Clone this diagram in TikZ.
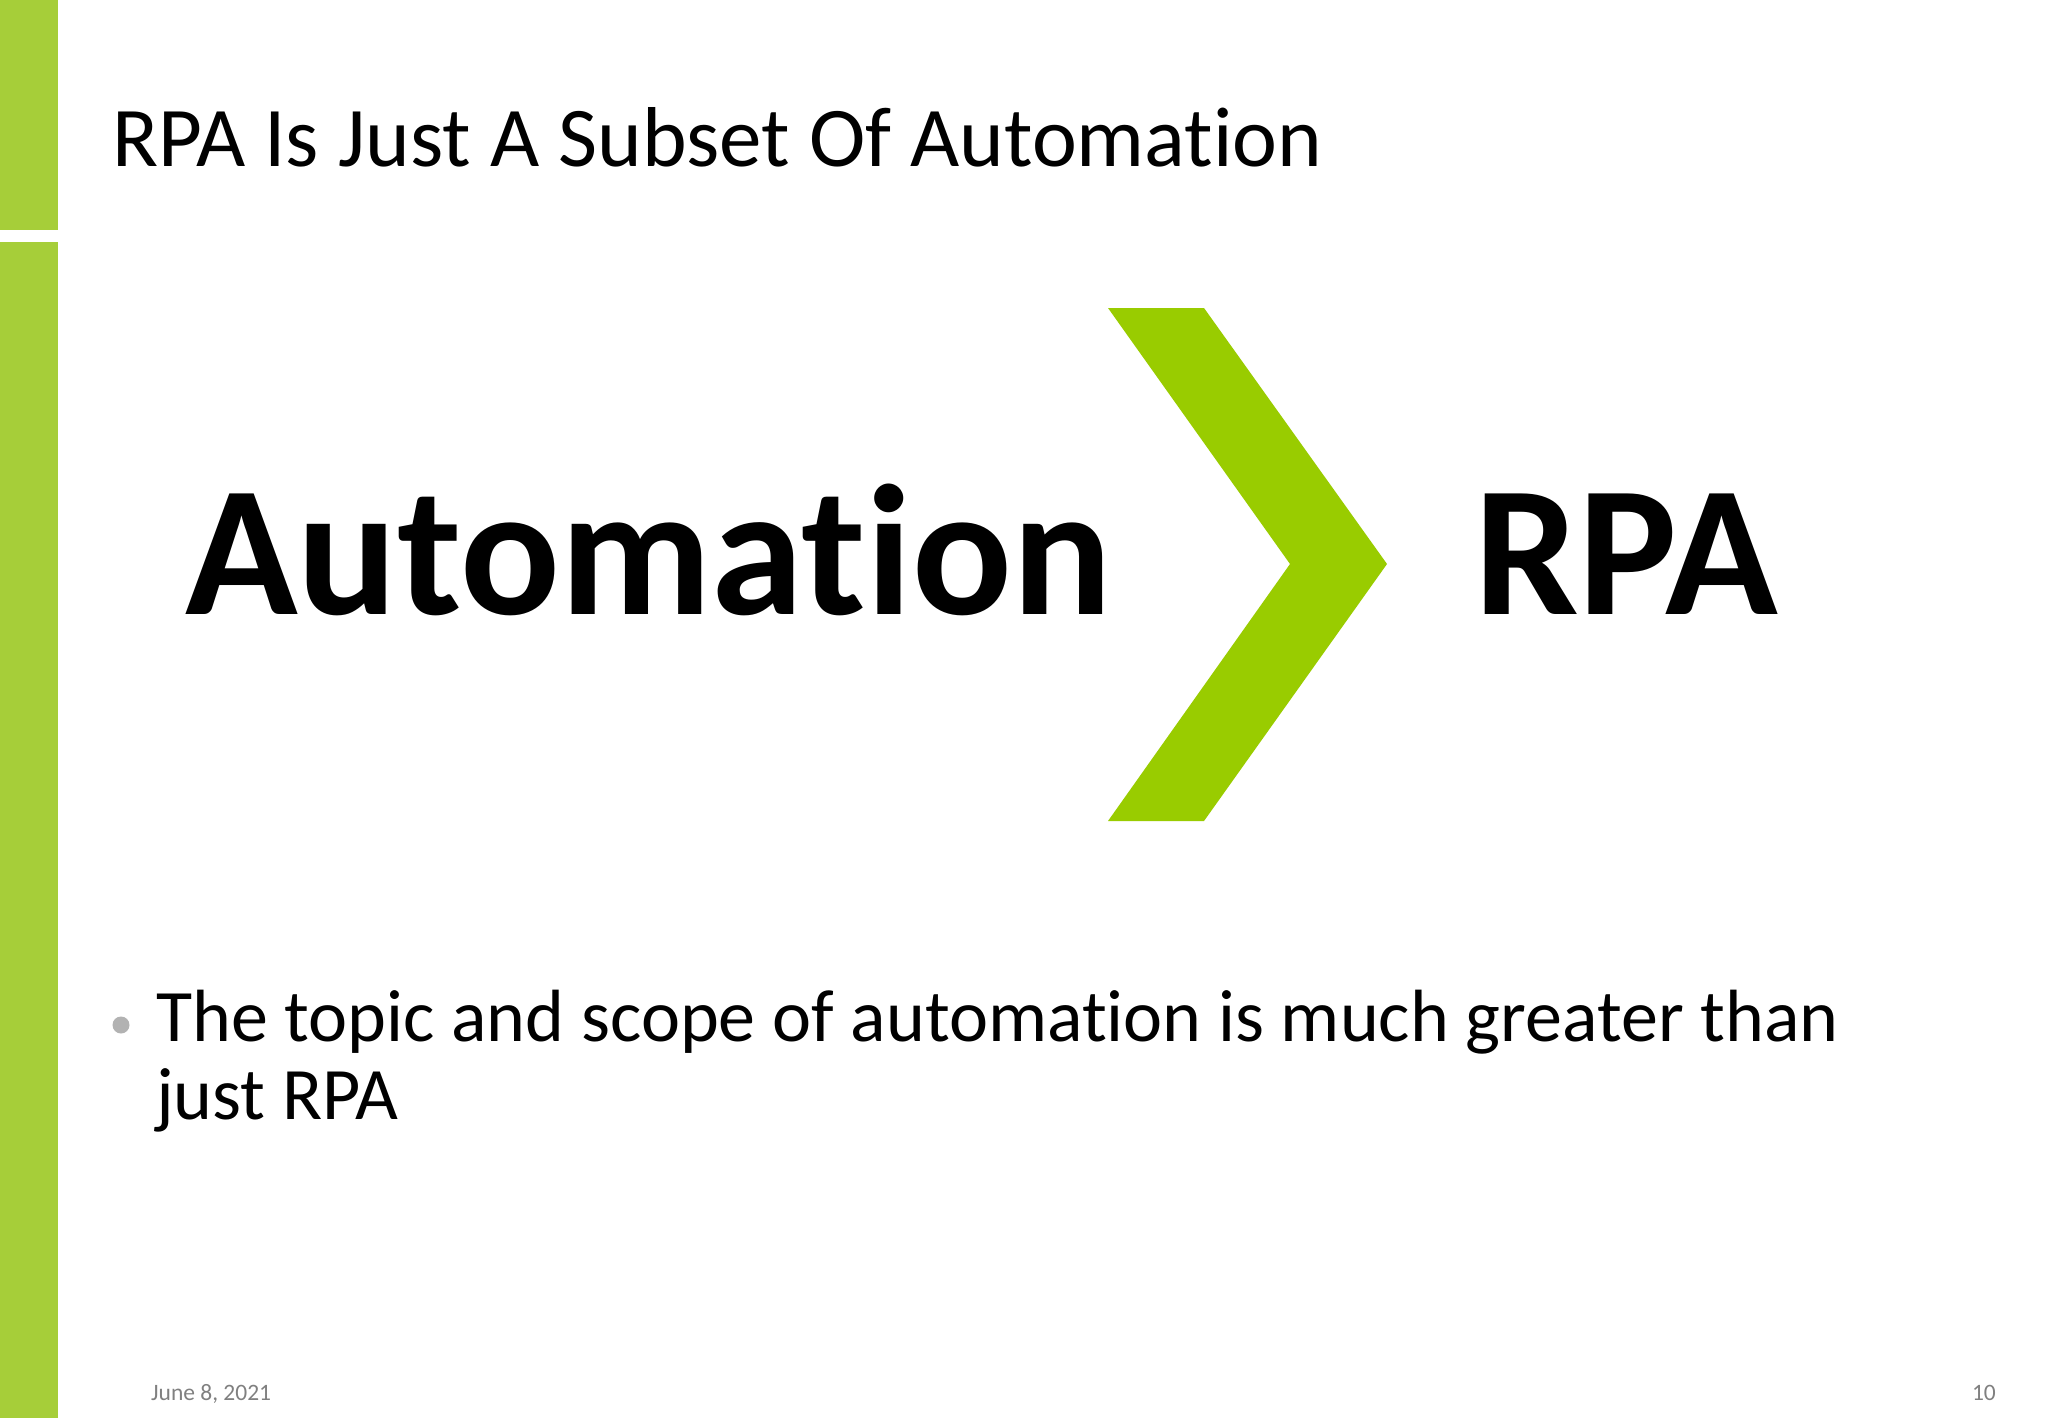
\documentclass[tikz,border=0pt]{standalone}
\usepackage{fontspec}
\setmainfont{Carlito}[Ligatures={NoCommon}]
\definecolor{bar}{HTML}{A6CE39}
\definecolor{chev}{HTML}{99CC00}
\begin{document}
\begin{tikzpicture}[x=1pt,y=-1pt,txt/.style={inner sep=0pt,anchor=base west}]
\useasboundingbox (0,0) rectangle (2048,1418);
\fill[white] (0,0) rectangle (2048,1418);
\fill[bar] (0,0) rectangle (57.5,230);
\fill[bar] (0,242) rectangle (57.5,1418);
\node[txt,font=\fontsize{85}{100}\selectfont] (title) at (112,167) {RPA Is Just A Subset Of Automation};
\fill[chev] (1108,308) -- (1204,308) -- (1387,564) -- (1204,821) -- (1108,821) -- (1290,564) -- cycle;
\node[txt,font=\bfseries\fontsize{186}{200}\selectfont] (auto) at (185,614) {Automation};
\node[txt,font=\bfseries\fontsize{186}{200}\selectfont] (rpa) at (1474,614) {RPA};
\fill[gray!60] (121,1025) circle (8.5);
\node[txt,font=\fontsize{74}{78}\selectfont,align=left,anchor=north west] (body) at (156,990) {The topic and scope of automation is much greater than\\just RPA};
\node[txt,font=\fontsize{23.5}{24}\selectfont,text=gray] (date) at (151,1400) {June 8, 2021};
\node[txt,font=\fontsize{23.5}{24}\selectfont,text=gray,anchor=base east] (num) at (1996,1400) {10};
\end{tikzpicture}
\end{document}
